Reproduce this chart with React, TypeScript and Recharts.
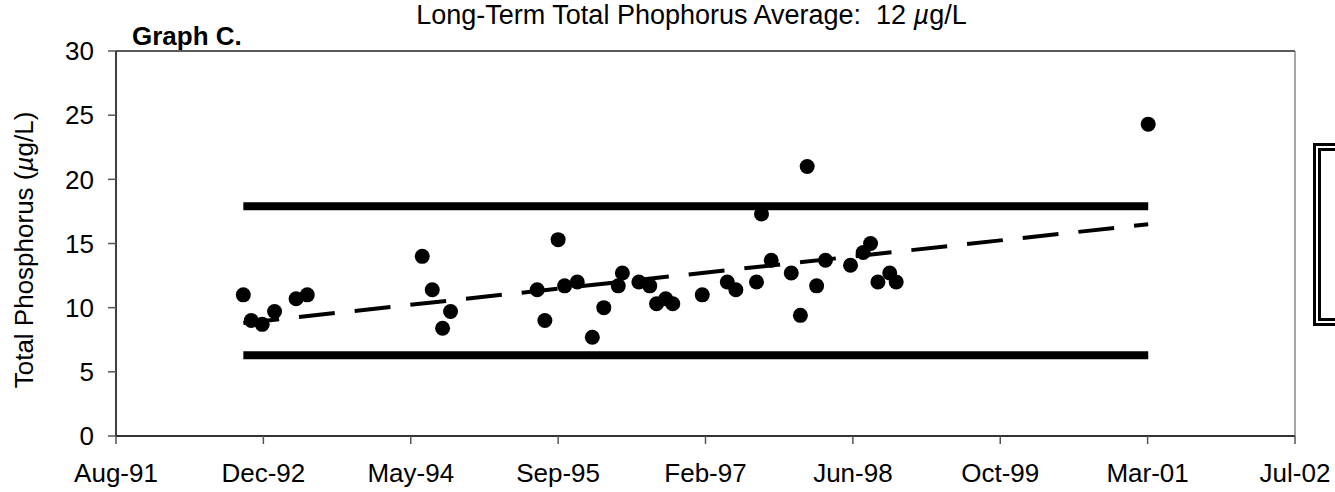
import {
  ComposedChart,
  Line,
  Scatter,
  XAxis,
  YAxis,
  ReferenceLine,
} from "recharts";

const DAY = 86400000;

// x axis: date scale, one tick every 500 days from the axis start
const axisStart = "1991-08-13";
const tickStepDays = 500;
const tickLabels = ["Aug-91", "Dec-92", "May-94", "Sep-95", "Feb-97", "Jun-98", "Oct-99", "Mar-01", "Jul-02"];
const yTicks = [0, 5, 10, 15, 20, 25, 30];

// sampling dates and total phosphorus (ug/L)
const sampleDates = [
  "1992-10-18", "1992-11-14", "1992-12-21", "1993-02-01", "1993-04-15", "1993-05-23",
  "1994-06-17", "1994-07-21", "1994-08-25", "1994-09-21",
  "1995-07-12", "1995-08-07", "1995-09-21", "1995-10-13", "1995-11-25",
  "1996-01-15", "1996-02-23", "1996-04-12", "1996-04-26", "1996-06-21", "1996-07-28", "1996-08-20", "1996-09-20", "1996-10-14",
  "1997-01-22", "1997-04-17", "1997-05-16", "1997-07-25", "1997-08-11", "1997-09-13", "1997-11-20", "1997-12-21",
  "1998-01-13", "1998-02-14", "1998-03-16", "1998-06-09", "1998-07-22", "1998-08-16", "1998-09-10", "1998-10-20", "1998-11-11",
  "2001-03-15",
];
const totalP = [
  11.0, 9.0, 8.7, 9.7, 10.7, 11.0,
  14.0, 11.4, 8.4, 9.7,
  11.4, 9.0, 15.3, 11.7, 12.0,
  7.7, 10.0, 11.7, 12.7, 12.0, 11.7, 10.3, 10.7, 10.3,
  11.0, 12.0, 11.4, 12.0, 17.3, 13.7, 12.7, 9.4,
  21.0, 11.7, 13.7, 13.3, 14.3, 15.0, 12.0, 12.7, 12.0,
  24.3,
];

// upper / lower limit lines and linear trend end values
const upperLimit = 17.9;
const lowerLimit = 6.3;
const trendStart = 8.8;
const trendEnd = 16.5;

const FONT = '"Liberation Sans", Arial, Helvetica, sans-serif';

const t0 = Date.parse(axisStart);
const xTicks = tickLabels.map((_, i) => t0 + i * tickStepDays * DAY);
const xMax = xTicks[xTicks.length - 1];

const samples = sampleDates.map((d, i) => ({ x: Date.parse(d), tp: totalP[i] }));
const first = samples[0].x;
const last = samples[samples.length - 1].x;
const upperData = [{ x: first, v: upperLimit }, { x: last, v: upperLimit }];
const lowerData = [{ x: first, v: lowerLimit }, { x: last, v: lowerLimit }];
const trendData = [{ x: first, v: trendStart }, { x: last, v: trendEnd }];

const Dot = (p: any) => <circle cx={p.cx} cy={p.cy} r={7.5} fill="#000" />;

export default function App() {
  return (
    <div
      style={{
        position: "absolute",
        left: 0,
        top: 0,
        width: 1335,
        height: 492,
        overflow: "hidden",
        background: "#fff",
        fontFamily: FONT,
        color: "#000",
      }}
    >
      <ComposedChart width={1335} height={492} margin={{ top: 51, right: 40, bottom: 26, left: 0 }}>
        <XAxis
          type="number"
          dataKey="x"
          domain={[t0, xMax]}
          ticks={xTicks}
          allowDataOverflow
          tickFormatter={(v: number) => tickLabels[xTicks.indexOf(v)] ?? ""}
          tick={{ fill: "#000", fontSize: 26, fontFamily: FONT }}
          axisLine={{ stroke: "#333", strokeWidth: 2 }}
          tickLine={{ stroke: "#555", strokeWidth: 1.5 }}
          tickSize={8}
          tickMargin={20}
          height={30}
        />
        <YAxis
          type="number"
          domain={[0, 30]}
          ticks={yTicks}
          width={116}
          tick={{ fill: "#000", fontSize: 26, fontFamily: FONT }}
          axisLine={{ stroke: "#000", strokeWidth: 1.5 }}
          tickLine={{ stroke: "#555", strokeWidth: 1.5 }}
          tickSize={8}
          tickMargin={14}
        />
        <ReferenceLine y={30} stroke="#222" strokeWidth={1.5} />
        <ReferenceLine x={xMax} stroke="#888" strokeWidth={1.5} />
        <Line data={upperData} dataKey="v" stroke="#000" strokeWidth={8} dot={false} activeDot={false} isAnimationActive={false} />
        <Line data={lowerData} dataKey="v" stroke="#000" strokeWidth={8} dot={false} activeDot={false} isAnimationActive={false} />
        <Line
          data={trendData}
          dataKey="v"
          stroke="#000"
          strokeWidth={4}
          strokeDasharray="36 20"
          dot={false}
          activeDot={false}
          isAnimationActive={false}
        />
        <Scatter data={samples} dataKey="tp" shape={Dot} isAnimationActive={false} />
      </ComposedChart>

      <div
        style={{
          position: "absolute",
          left: 0,
          top: 2,
          width: 1383,
          textAlign: "center",
          fontSize: 27,
          lineHeight: "27px",
          whiteSpace: "pre",
        }}
      >
        {"Long-Term Total Phophorus Average:  12 "}
        <i>µ</i>
        {"g/L"}
      </div>
      <div style={{ position: "absolute", left: 132, top: 23, fontSize: 26, lineHeight: "26px", fontWeight: "bold" }}>
        Graph C.
      </div>
      <div
        style={{
          position: "absolute",
          left: 24 - 200,
          top: 250 - 15,
          width: 400,
          height: 30,
          lineHeight: "30px",
          fontSize: 26,
          textAlign: "center",
          transform: "rotate(-90deg)",
          whiteSpace: "nowrap",
        }}
      >
        Total Phosphorus (<i>µ</i>g/L)
      </div>
      <div
        style={{
          position: "absolute",
          left: 1313,
          top: 143,
          width: 60,
          height: 167,
          border: "8px double #000",
        }}
      />
    </div>
  );
}
